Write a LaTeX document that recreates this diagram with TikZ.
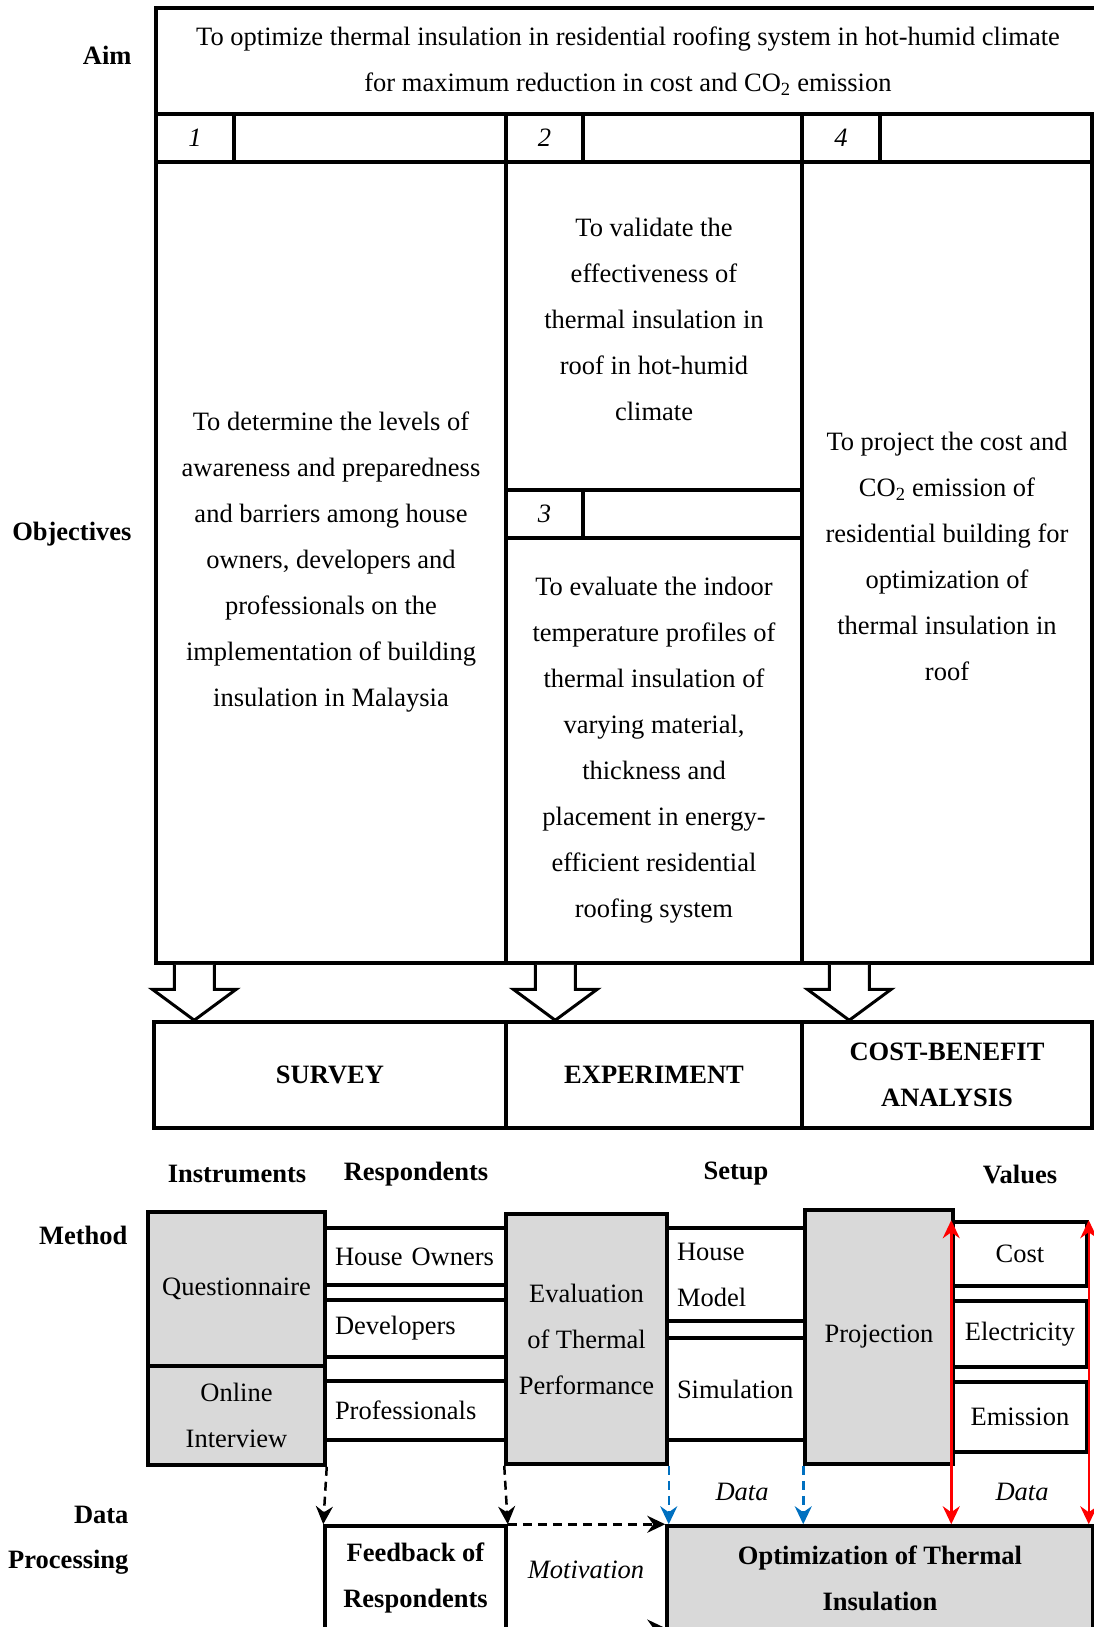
\documentclass[tikz,border=0pt]{standalone}
\usepackage{fontspec}
\setmainfont{Liberation Serif}
\usetikzlibrary{arrows.meta,calc}
\definecolor{boxgray}{RGB}{217,217,217}
\definecolor{datablue}{RGB}{0,112,192}

\begin{document}
\begin{tikzpicture}[x=1pt,y=-1pt,>={Stealth[length=18pt,width=17pt,inset=6pt]},
                    font=\fontsize{26.5}{46}\selectfont]
  \tikzstyle{box}=[draw,line width=3.5pt,align=center,inner sep=0pt]
  \tikzstyle{gbox}=[box,fill=boxgray]
  \tikzstyle{lbox}=[box,align=left,inner xsep=10pt]
  \tikzstyle{num}=[box,font=\fontsize{26.5}{46}\selectfont\itshape]
  \tikzstyle{bbox}=[box,font=\fontsize{26.5}{46}\selectfont\bfseries]
  \tikzstyle{lbl}=[font=\fontsize{26.5}{45}\selectfont\bfseries,align=right,anchor=east]
  \tikzstyle{head}=[font=\fontsize{26.5}{46}\selectfont\bfseries]
  \tikzstyle{note}=[font=\fontsize{26.5}{46}\selectfont\itshape]
  \tikzstyle{fat}=[line width=3pt,fill=white,line join=miter]
  \tikzstyle{dasharr}=[->,line width=2.5pt,dash pattern=on 9pt off 6pt]
  \tikzstyle{bluearr}=[dasharr,datablue]
  \tikzstyle{redarr}=[<->,line width=2.5pt,red]

  \useasboundingbox (0,0) rectangle (1094,1627);

  % aim and objectives
  \node[box,minimum width=944,minimum height=106] (aim) at (628,61)
    {To optimize thermal insulation in residential roofing system in hot-humid climate\\
     for maximum reduction in cost and CO\textsubscript{2} emission};
  \node[num,minimum width=78,minimum height=48]  (n1)  at (195,138)   {1};
  \node[box,minimum width=272,minimum height=48] (n1b) at (370,138)   {};
  \node[num,minimum width=77,minimum height=48]  (n2)  at (544.5,138) {2};
  \node[box,minimum width=219,minimum height=48] (n2b) at (692.5,138) {};
  \node[num,minimum width=78,minimum height=48]  (n4)  at (841,138)   {4};
  \node[box,minimum width=212,minimum height=48] (n4b) at (986,138)   {};

  \node[box,minimum width=350,minimum height=801] (obj1) at (331,562.5)
    {To determine the levels of\\awareness and preparedness\\and barriers among house\\
     owners, developers and\\professionals on the\\implementation of building\\
     insulation in Malaysia};
  \node[box,minimum width=296,minimum height=328,inner ysep=0pt,text depth=14pt] (obj2) at (654,326)
    {To validate the\\effectiveness of\\thermal insulation in\\roof in hot-humid\\climate};
  \node[num,minimum width=77,minimum height=48]  (n3)  at (544.5,514) {3};
  \node[box,minimum width=219,minimum height=48] (n3b) at (692.5,514) {};
  \node[box,minimum width=296,minimum height=425] (obj3) at (654,750.5)
    {To evaluate the indoor\\temperature profiles of\\thermal insulation of\\varying material,\\
     thickness and\\placement in energy-\\efficient residential\\roofing system};
  \node[box,minimum width=290,minimum height=801,text depth=12pt] (obj4) at (947,562.5)
    {To project the cost and\\CO\textsubscript{2} emission of\\residential building for\\
     optimization of\\thermal insulation in\\roof};

  % approaches
  \node[bbox,minimum width=352,minimum height=106] (sv1) at (330,1075) {SURVEY};
  \node[bbox,minimum width=296,minimum height=106] (sv2) at (654,1075) {EXPERIMENT};
  \node[bbox,minimum width=290,minimum height=106] (sv3) at (947,1075) {COST-BENEFIT\\ANALYSIS};

  \foreach \s/\t/\dx in {obj1/sv1/40, obj3/sv2/51, obj4/sv3/49}{
    \path ($(\s.south west)+(\dx,0)$) coordinate (top);
    \path (top |- \t.north) coordinate (tip);
    \draw[fat] ($(top)+(-20,0)$) -- ($(tip)+(-20,-31)$) -- ($(tip)+(-42,-31)$) -- (tip)
      -- ($(tip)+(42,-31)$) -- ($(tip)+(20,-31)$) -- ($(top)+(20,0)$);
  }

  % method
  \node[gbox,minimum width=177,minimum height=154] (quest)  at (236.5,1289)   {Questionnaire};
  \node[gbox,minimum width=177,minimum height=99]  (online) at (236.5,1415.5) {Online\\Interview};
  \node[lbox,text width=161,minimum height=57] (ho)   at (415.5,1256.5) {House Owners};
  \node[lbox,text width=161,minimum height=57] (dev)  at (415.5,1328.5) {Developers};
  \node[lbox,text width=161,minimum height=59] (prof) at (415.5,1410.5) {Professionals};
  \node[gbox,minimum width=161,minimum height=250] (eval) at (586.5,1339)
    {Evaluation\\of Thermal\\Performance};
  \node[lbox,text width=118,minimum height=93]  (hm)  at (736,1274.5) {House\\Model};
  \node[lbox,text width=118,minimum height=102] (sim) at (736,1389)   {Simulation};
  \node[gbox,minimum width=148,minimum height=254] (proj) at (879,1337) {Projection};
  \node[box,minimum width=134,minimum height=64] (cost) at (1020,1254) {Cost};
  \node[box,minimum width=134,minimum height=66] (elec) at (1020,1334) {Electricity};
  \node[box,minimum width=134,minimum height=70] (emis) at (1020,1417) {Emission};

  % data processing
  \node[bbox,minimum width=181,minimum height=104] (fb) at (415.5,1578) {Feedback of\\Respondents};
  \node[bbox,fill=boxgray,minimum width=426,minimum height=104] (opt) at (880,1578)
    {Optimization of Thermal\\Insulation};

  % side labels and headers
  \node[lbl] (laim) at (135,55)   {Aim};
  \node[lbl] (lobj) at (135,534)  {Objectives};
  \node[lbl] (lmet) at (131,1235) {Method};
  \node[lbl] (ldat) at (132,1540) {Data\\Processing};
  \node[head] (hins) at (237,1174)  {Instruments};
  \node[head] (hres) at (416,1174)  {Respondents};
  \node[head] (hset) at (736,1174)  {Setup};
  \node[head] (hval) at (1020,1174) {Values};
  \node[note] (d1)  at (742,1492)  {Data};
  \node[note] (d2)  at (1022,1492) {Data};
  \node[note] (mot) at (586,1570)  {Motivation};

  % connectors
  \draw[dasharr] (online.south east) -- (fb.north west);
  \draw[dasharr] (eval.south west) -- (fb.north east);
  \draw[dasharr] (fb.north east) -- (opt.north west);
  \coordinate (mb) at (0,1628);
  \draw[dasharr] (fb.east |- mb) -- (opt.west |- mb);
  \draw[bluearr] (eval.south east) -- (eval.south east |- opt.north);
  \draw[bluearr] (proj.south west) -- (proj.south west |- opt.north);
  \draw[redarr] (cost.north west) -- (cost.north west |- opt.north);
  \draw[redarr] (cost.north east) -- (cost.north east |- opt.north);
\end{tikzpicture}
\end{document}
